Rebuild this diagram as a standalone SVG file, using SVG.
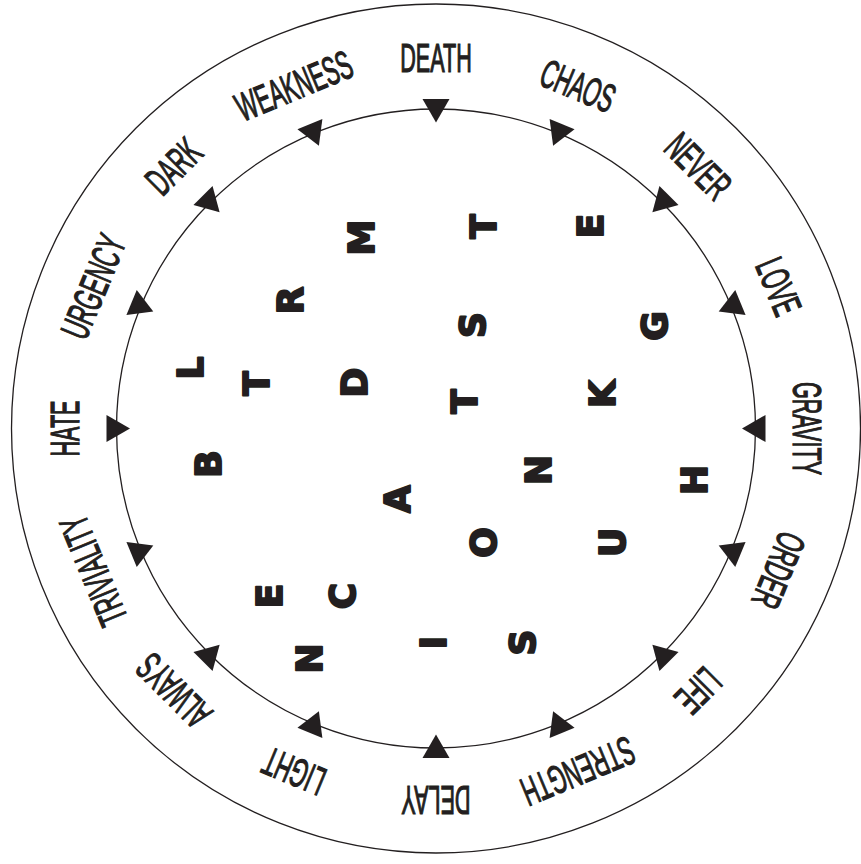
<svg xmlns="http://www.w3.org/2000/svg" xmlns:xlink="http://www.w3.org/1999/xlink" width="861" height="864" viewBox="0 0 861 864">
<style>
.ring{fill:none;stroke:#231f20;stroke-width:1.3}
.tri{fill:#231f20}
.word{font-family:"Liberation Sans",Arial,sans-serif;font-size:40px;fill:#231f20;stroke:#231f20;stroke-width:1;vector-effect:non-scaling-stroke;text-anchor:middle}
.let{font-family:"DejaVu Sans","Liberation Sans",sans-serif;font-weight:bold;font-size:36px;fill:#231f20;stroke:#231f20;stroke-width:2;stroke-linejoin:round;text-anchor:middle}
</style>
<defs>
<polygon id="tri" points="-13.5,-329.5 13.5,-329.5 0,-306"/>
</defs>
<rect width="861" height="864" fill="#ffffff"/>
<g id="rings">
<circle class="ring" cx="436" cy="428.5" r="424.5"/>
<circle class="ring" cx="436" cy="428.5" r="319.5"/>
</g>
<g id="connectors" class="tri">
<use xlink:href="#tri" transform="translate(436,428.5) rotate(0)"/>
<use xlink:href="#tri" transform="translate(436,428.5) rotate(22.5)"/>
<use xlink:href="#tri" transform="translate(436,428.5) rotate(45)"/>
<use xlink:href="#tri" transform="translate(436,428.5) rotate(67.5)"/>
<use xlink:href="#tri" transform="translate(436,428.5) rotate(90)"/>
<use xlink:href="#tri" transform="translate(436,428.5) rotate(112.5)"/>
<use xlink:href="#tri" transform="translate(436,428.5) rotate(135)"/>
<use xlink:href="#tri" transform="translate(436,428.5) rotate(157.5)"/>
<use xlink:href="#tri" transform="translate(436,428.5) rotate(180)"/>
<use xlink:href="#tri" transform="translate(436,428.5) rotate(202.5)"/>
<use xlink:href="#tri" transform="translate(436,428.5) rotate(225)"/>
<use xlink:href="#tri" transform="translate(436,428.5) rotate(247.5)"/>
<use xlink:href="#tri" transform="translate(436,428.5) rotate(270)"/>
<use xlink:href="#tri" transform="translate(436,428.5) rotate(292.5)"/>
<use xlink:href="#tri" transform="translate(436,428.5) rotate(315)"/>
<use xlink:href="#tri" transform="translate(436,428.5) rotate(337.5)"/>
</g>
<g id="words">
<g id="w-death" transform="rotate(0,436,428.5) translate(436,71.5) scale(0.54,1)"><text class="word">DEATH</text></g>
<g id="w-chaos" transform="rotate(22.5,436,428.5) translate(436,71.5) scale(0.54,1)"><text class="word">CHAOS</text></g>
<g id="w-never" transform="rotate(45,436,428.5) translate(436,71.5) scale(0.54,1)"><text class="word">NEVER</text></g>
<g id="w-love" transform="rotate(67.5,436,428.5) translate(436,71.5) scale(0.54,1)"><text class="word">LOVE</text></g>
<g id="w-gravity" transform="rotate(90,436,428.5) translate(436,71.5) scale(0.54,1)"><text class="word">GRAVITY</text></g>
<g id="w-order" transform="rotate(112.5,436,428.5) translate(436,71.5) scale(0.54,1)"><text class="word">ORDER</text></g>
<g id="w-life" transform="rotate(135,436,428.5) translate(436,71.5) scale(0.54,1)"><text class="word">LIFE</text></g>
<g id="w-strength" transform="rotate(157.5,436,428.5) translate(436,71.5) scale(0.54,1)"><text class="word">STRENGTH</text></g>
<g id="w-delay" transform="rotate(180,436,428.5) translate(436,71.5) scale(0.54,1)"><text class="word">DELAY</text></g>
<g id="w-light" transform="rotate(202.5,436,428.5) translate(436,71.5) scale(0.54,1)"><text class="word">LIGHT</text></g>
<g id="w-always" transform="rotate(225,436,428.5) translate(436,71.5) scale(0.54,1)"><text class="word">ALWAYS</text></g>
<g id="w-triviality" transform="rotate(247.5,436,428.5) translate(436,71.5) scale(0.54,1)"><text class="word">TRIVIALITY</text></g>
<g id="w-hate" transform="rotate(270,436,428.5) translate(436,71.5) scale(0.54,1)"><text class="word">HATE</text></g>
<g id="w-urgency" transform="rotate(292.5,436,428.5) translate(436,71.5) scale(0.54,1)"><text class="word">URGENCY</text></g>
<g id="w-dark" transform="rotate(315,436,428.5) translate(436,71.5) scale(0.54,1)"><text class="word">DARK</text></g>
<g id="w-weakness" transform="rotate(337.5,436,428.5) translate(436,71.5) scale(0.54,1)"><text class="word">WEAKNESS</text></g>
</g>
<g id="letters">
<g id="l1" transform="translate(360.5,237.5) rotate(-90)"><text class="let" y="13.1">M</text></g>
<g id="l2" transform="translate(483,226.5) rotate(-90)"><text class="let" y="13.1">T</text></g>
<g id="l3" transform="translate(589.5,226) rotate(-90)"><text class="let" y="13.1">E</text></g>
<g id="l4" transform="translate(290,300.5) rotate(-90)"><text class="let" y="13.1">R</text></g>
<g id="l5" transform="translate(471.5,325) rotate(-90)"><text class="let" y="13.1">S</text></g>
<g id="l6" transform="translate(654,326) rotate(-90)"><text class="let" y="13.1">G</text></g>
<g id="l7" transform="translate(189.5,368) rotate(-90)"><text class="let" y="13.1">L</text></g>
<g id="l8" transform="translate(255.5,383.5) rotate(-90)"><text class="let" y="13.1">T</text></g>
<g id="l9" transform="translate(354,382.5) rotate(-90)"><text class="let" y="13.1">D</text></g>
<g id="l10" transform="translate(464,401.5) rotate(-90)"><text class="let" y="13.1">T</text></g>
<g id="l11" transform="translate(602,394) rotate(-90)"><text class="let" y="13.1">K</text></g>
<g id="l12" transform="translate(208,464) rotate(-90)"><text class="let" y="13.1">B</text></g>
<g id="l13" transform="translate(538,470) rotate(-90)"><text class="let" y="13.1">N</text></g>
<g id="l14" transform="translate(693.5,480) rotate(-90)"><text class="let" y="13.1">H</text></g>
<g id="l15" transform="translate(396.5,499) rotate(-90)"><text class="let" y="13.1">A</text></g>
<g id="l16" transform="translate(483,542.5) rotate(-90)"><text class="let" y="13.1">O</text></g>
<g id="l17" transform="translate(612,542.5) rotate(-90)"><text class="let" y="13.1">U</text></g>
<g id="l18" transform="translate(268.5,596) rotate(-90)"><text class="let" y="13.1">E</text></g>
<g id="l19" transform="translate(341.5,596) rotate(-90)"><text class="let" y="13.1">C</text></g>
<g id="l20" transform="translate(432.5,642.5) rotate(-90)"><text class="let" y="13.1">I</text></g>
<g id="l21" transform="translate(521.5,642.5) rotate(-90)"><text class="let" y="13.1">S</text></g>
<g id="l22" transform="translate(309,658.5) rotate(-90)"><text class="let" y="13.1">N</text></g>
</g>
</svg>
